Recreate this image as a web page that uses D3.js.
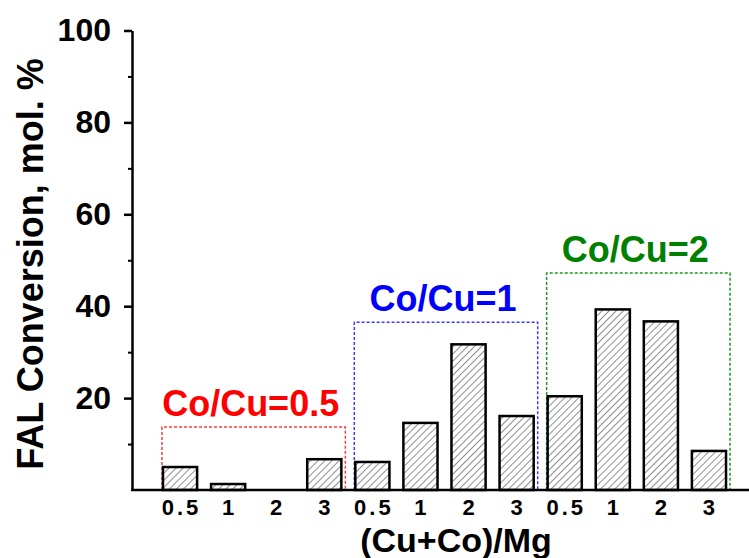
<!DOCTYPE html>
<html>
<head>
<meta charset="utf-8">
<script src="https://cdn.jsdelivr.net/npm/d3@7"></script>
<style>
  body { margin: 0; background: #fff; }
  svg { display: block; font-family: Arial, "Liberation Sans", sans-serif; font-weight: bold; }
</style>
</head>
<body>
<div id="chart"></div>
<script>
// values
const groups = ["Co/Cu=0.5", "Co/Cu=1", "Co/Cu=2"];
const ratios = ["0.5", "1", "2", "3"];
const convCoCu05 = [5.0, 1.3, 0, 6.7];
const convCoCu1 = [6.1, 14.6, 31.7, 16.1];
const convCoCu2 = [20.4, 39.3, 36.7, 8.5];
const boxTops = [13.7, 36.5, 47.2];
const yTicks = [20, 40, 60, 80, 100];
const yMinor = [10, 30, 50, 70, 90];

const groupColors = ["#ff0000", "#0000ff", "#008000"];
const boxColors = ["#ff3b3b", "#3b3bff", "#1a9a1a"];

const w = 749, h = 558;

const series = [convCoCu05, convCoCu1, convCoCu2];
const bars = [];
series.forEach((vals, g) => {
  vals.forEach((v, i) => bars.push({ key: g + "_" + ratios[i], g: g, label: ratios[i], value: v }));
});

const x = d3.scaleBand()
  .domain(bars.map(d => d.key))
  .range([156, 733])
  .paddingInner(0.29)
  .paddingOuter(0.145);

const y = d3.scaleLinear()
  .domain([0, 100])
  .range([490, 30.5]);

const svg = d3.select("#chart")
  .append("svg")
  .attr("width", w)
  .attr("height", h);

// hatch fill
svg.append("defs")
  .append("pattern")
  .attr("id", "hatch")
  .attr("patternUnits", "userSpaceOnUse")
  .attr("width", 5)
  .attr("height", 5)
  .attr("patternTransform", "rotate(45)")
  .append("line")
  .attr("x1", 0).attr("y1", 0)
  .attr("x2", 0).attr("y2", 5)
  .attr("stroke", "#222")
  .attr("stroke-width", 1);

// dotted group boxes, open at the bottom
groups.forEach((name, g) => {
  const first = x(g + "_" + ratios[0]) - 1;
  const last = x(g + "_" + ratios[ratios.length - 1]) + x.bandwidth() + 4;
  const top = y(boxTops[g]);
  svg.append("path")
    .attr("d", `M${first},${y(0)}V${top}H${last}V${y(0)}`)
    .attr("fill", "none")
    .attr("stroke", boxColors[g])
    .attr("stroke-width", 1.5)
    .attr("stroke-dasharray", "3,2");

  svg.append("text")
    .attr("x", (first + last) / 2 - 3)
    .attr("y", top - 11)
    .attr("text-anchor", "middle")
    .attr("font-size", "36px")
    .attr("fill", groupColors[g])
    .text(name);
});

// bars
svg.selectAll("rect.bar")
  .data(bars.filter(d => d.value > 0))
  .enter()
  .append("rect")
  .attr("class", "bar")
  .attr("x", d => x(d.key))
  .attr("y", d => y(d.value))
  .attr("width", x.bandwidth())
  .attr("height", d => y(0) - y(d.value))
  .attr("fill", "url(#hatch)")
  .attr("stroke", "#000")
  .attr("stroke-width", 2.5);

// y axis
const yAxis = svg.append("g")
  .attr("transform", "translate(132,0)")
  .call(d3.axisLeft(y).tickValues(yTicks).tickSize(8).tickSizeOuter(0).tickPadding(13));
yAxis.selectAll("text").attr("font-size", "32px").attr("font-family", null).attr("fill", "#000");
yAxis.selectAll("line, path").attr("stroke", "#000").attr("stroke-width", 2.5);

const yMinorAxis = svg.append("g")
  .attr("transform", "translate(132,0)")
  .call(d3.axisLeft(y).tickValues(yMinor).tickSize(4).tickFormat(""));
yMinorAxis.select("path").remove();
yMinorAxis.selectAll("line").attr("stroke", "#000").attr("stroke-width", 2);

// x axis line runs to the edge
svg.append("line")
  .attr("x1", 131).attr("x2", w)
  .attr("y1", y(0)).attr("y2", y(0))
  .attr("stroke", "#000")
  .attr("stroke-width", 2.5);

// x tick labels
svg.selectAll("text.xlab")
  .data(bars)
  .enter()
  .append("text")
  .attr("class", "xlab")
  .attr("x", d => x(d.key) + x.bandwidth() / 2 + 1.5)
  .attr("y", 515)
  .attr("text-anchor", "middle")
  .attr("font-size", "22px")
  .attr("letter-spacing", "3px")
  .attr("fill", "#000")
  .text(d => d.label);

// axis titles
svg.append("text")
  .attr("x", 456)
  .attr("y", 552)
  .attr("text-anchor", "middle")
  .attr("font-size", "34px")
  .text("(Cu+Co)/Mg");

svg.append("text")
  .attr("transform", "translate(43,264) rotate(-90)")
  .attr("text-anchor", "middle")
  .attr("font-size", "36px")
  .text("FAL Conversion, mol. %");
</script>
</body>
</html>
